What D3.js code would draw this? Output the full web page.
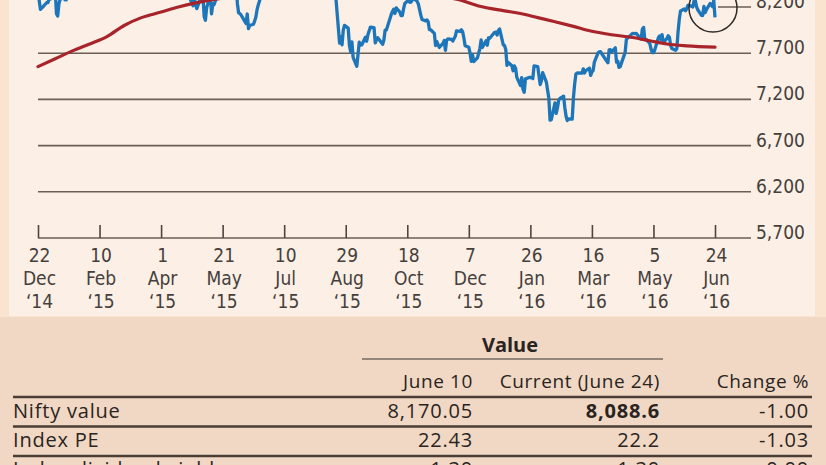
<!DOCTYPE html>
<html>
<head>
<meta charset="utf-8">
<script src="https://cdn.jsdelivr.net/npm/d3@7"></script>
<style>
  body { margin: 0; background: #fae4cf; }
  svg { display: block; }
</style>
</head>
<body>
<script>
// Nifty daily close, Dec 2014 - Jun 2016
var niftyDates = [
  "2014-12-22","2014-12-23","2014-12-24","2014-12-26","2014-12-29","2014-12-30","2014-12-31",
  "2015-01-01","2015-01-02","2015-01-05","2015-01-06","2015-01-07","2015-01-08","2015-01-09","2015-01-12","2015-01-13","2015-01-14","2015-01-15","2015-01-16","2015-01-19","2015-01-20","2015-01-21","2015-01-22","2015-01-23","2015-01-27","2015-01-28","2015-01-29","2015-01-30",
  "2015-02-02","2015-02-03","2015-02-04","2015-02-05","2015-02-06","2015-02-09","2015-02-10","2015-02-11","2015-02-12","2015-02-13","2015-02-16","2015-02-18","2015-02-19","2015-02-20","2015-02-23","2015-02-24","2015-02-25","2015-02-26","2015-02-27","2015-02-28",
  "2015-03-02","2015-03-03","2015-03-04","2015-03-05","2015-03-09","2015-03-10","2015-03-11","2015-03-12","2015-03-13","2015-03-16","2015-03-17","2015-03-18","2015-03-19","2015-03-20","2015-03-23","2015-03-24","2015-03-25","2015-03-26","2015-03-27","2015-03-30","2015-03-31",
  "2015-04-01","2015-04-06","2015-04-07","2015-04-08","2015-04-09","2015-04-10","2015-04-13","2015-04-15","2015-04-16","2015-04-17","2015-04-20","2015-04-21","2015-04-22","2015-04-23","2015-04-24","2015-04-27","2015-04-28","2015-04-29","2015-04-30",
  "2015-05-04","2015-05-05","2015-05-06","2015-05-07","2015-05-08","2015-05-11","2015-05-12","2015-05-13","2015-05-14","2015-05-15","2015-05-18","2015-05-19","2015-05-20","2015-05-21","2015-05-22","2015-05-25","2015-05-26","2015-05-27","2015-05-28","2015-05-29",
  "2015-06-01","2015-06-02","2015-06-03","2015-06-04","2015-06-05","2015-06-08","2015-06-09","2015-06-10","2015-06-11","2015-06-12","2015-06-15","2015-06-16","2015-06-17","2015-06-18","2015-06-19","2015-06-22","2015-06-23","2015-06-24","2015-06-25","2015-06-26","2015-06-29","2015-06-30",
  "2015-07-01","2015-07-02","2015-07-03","2015-07-06","2015-07-07","2015-07-08","2015-07-09","2015-07-10","2015-07-13","2015-07-14","2015-07-15","2015-07-16","2015-07-17","2015-07-20","2015-07-21","2015-07-22","2015-07-23","2015-07-24","2015-07-27","2015-07-28","2015-07-29","2015-07-30","2015-07-31",
  "2015-08-03","2015-08-04","2015-08-05","2015-08-06","2015-08-07","2015-08-10","2015-08-11","2015-08-12","2015-08-13","2015-08-14","2015-08-17","2015-08-18","2015-08-19","2015-08-20","2015-08-21","2015-08-24","2015-08-25","2015-08-26","2015-08-27","2015-08-28","2015-08-31",
  "2015-09-01","2015-09-02","2015-09-03","2015-09-04","2015-09-07","2015-09-08","2015-09-09","2015-09-10","2015-09-11","2015-09-14","2015-09-15","2015-09-16","2015-09-18","2015-09-21","2015-09-22","2015-09-23","2015-09-24","2015-09-28","2015-09-29","2015-09-30",
  "2015-10-01","2015-10-05","2015-10-06","2015-10-07","2015-10-08","2015-10-09","2015-10-12","2015-10-13","2015-10-14","2015-10-15","2015-10-16","2015-10-19","2015-10-20","2015-10-21","2015-10-23","2015-10-26","2015-10-27","2015-10-28","2015-10-29","2015-10-30",
  "2015-11-02","2015-11-03","2015-11-04","2015-11-05","2015-11-06","2015-11-09","2015-11-10","2015-11-11","2015-11-13","2015-11-16","2015-11-17","2015-11-18","2015-11-19","2015-11-20","2015-11-23","2015-11-24","2015-11-26","2015-11-27","2015-11-30",
  "2015-12-01","2015-12-02","2015-12-03","2015-12-04","2015-12-07","2015-12-08","2015-12-09","2015-12-10","2015-12-11","2015-12-14","2015-12-15","2015-12-16","2015-12-17","2015-12-18","2015-12-21","2015-12-22","2015-12-23","2015-12-24","2015-12-28","2015-12-29","2015-12-30","2015-12-31",
  "2016-01-01","2016-01-04","2016-01-05","2016-01-06","2016-01-07","2016-01-08","2016-01-11","2016-01-12","2016-01-13","2016-01-14","2016-01-15","2016-01-18","2016-01-19","2016-01-20","2016-01-21","2016-01-22","2016-01-25","2016-01-27","2016-01-28","2016-01-29",
  "2016-02-01","2016-02-02","2016-02-03","2016-02-04","2016-02-05","2016-02-08","2016-02-09","2016-02-10","2016-02-11","2016-02-12","2016-02-15","2016-02-16","2016-02-17","2016-02-18","2016-02-19","2016-02-22","2016-02-23","2016-02-24","2016-02-25","2016-02-26","2016-02-29",
  "2016-03-01","2016-03-02","2016-03-03","2016-03-04","2016-03-08","2016-03-09","2016-03-10","2016-03-11","2016-03-14","2016-03-15","2016-03-16","2016-03-17","2016-03-18","2016-03-21","2016-03-22","2016-03-23","2016-03-28","2016-03-29","2016-03-30","2016-03-31",
  "2016-04-01","2016-04-04","2016-04-05","2016-04-06","2016-04-07","2016-04-08","2016-04-11","2016-04-12","2016-04-13","2016-04-18","2016-04-20","2016-04-21","2016-04-22","2016-04-25","2016-04-26","2016-04-27","2016-04-28","2016-04-29",
  "2016-05-02","2016-05-03","2016-05-04","2016-05-05","2016-05-06","2016-05-09","2016-05-10","2016-05-11","2016-05-12","2016-05-13","2016-05-16","2016-05-17","2016-05-18","2016-05-19","2016-05-20","2016-05-23","2016-05-24","2016-05-25","2016-05-26","2016-05-27","2016-05-30","2016-05-31",
  "2016-06-01","2016-06-02","2016-06-03","2016-06-06","2016-06-07","2016-06-08","2016-06-09","2016-06-10","2016-06-13","2016-06-14","2016-06-15","2016-06-16","2016-06-17","2016-06-20","2016-06-21","2016-06-22","2016-06-23","2016-06-24"
];
var niftyClose = [
  8325,8268,8174,8201,8246,8248,8283,
  8285,8395,8378,8127,8102,8235,8285,8299,8277,8277,8494,8514,8550,8696,8730,8761,8836,8911,8914,8952,8809,
  8797,8756,8723,8711,8661,8526,8565,8627,8711,8805,8809,8869,8895,8834,8754,8762,8767,8683,8844,8901,
  8956,8996,8923,8937,8756,8712,8699,8776,8647,8633,8723,8685,8634,8571,8550,8542,8530,8342,8341,8492,8491,
  8586,8660,8660,8714,8779,8780,8834,8750,8706,8606,8448,8377,8429,8398,8305,8213,8285,8239,8182,
  8331,8324,8097,8057,8191,8325,8126,8235,8224,8262,8373,8365,8423,8421,8458,8370,8339,8334,8319,8434,
  8433,8236,8135,8130,8114,8044,8022,8124,7965,8000,8013,8047,8092,8174,8224,8353,8381,8360,8398,8381,8318,8368,
  8445,8444,8485,8523,8510,8363,8329,8361,8459,8454,8523,8609,8609,8603,8529,8589,8589,8521,8361,8337,8375,8421,8532,
  8543,8516,8567,8588,8564,8525,8462,8349,8355,8518,8477,8495,8519,8372,8300,7809,7880,7791,7949,8001,7971,
  7785,7717,7823,7655,7558,7688,7819,7788,7789,7872,7829,7899,7981,7977,7812,7846,7868,7796,7843,7949,
  7951,8119,8152,8177,8130,8190,8144,8107,8108,8180,8238,8275,8251,8252,8295,8261,8233,8171,8111,8065,
  8050,8060,8040,7955,7954,7915,7783,7825,7762,7806,7837,7731,7842,7856,7849,7831,7883,7942,7935,
  7954,7931,7864,7781,7765,7701,7612,7683,7610,7650,7700,7750,7844,7762,7835,7786,7866,7861,7926,7928,7896,7946,
  7963,7791,7784,7741,7569,7601,7564,7510,7562,7537,7438,7351,7436,7310,7277,7422,7437,7437,7425,7563,
  7556,7455,7361,7405,7489,7387,7298,7216,6976,6981,7163,7048,7108,7192,7211,7235,7110,7018,6971,6988,6987,
  7222,7368,7475,7486,7485,7531,7486,7510,7538,7460,7498,7512,7604,7704,7714,7716,7615,7597,7735,7738,
  7713,7758,7603,7614,7546,7555,7671,7708,7850,7914,7912,7915,7899,7855,7962,7979,7847,7850,
  7806,7747,7707,7706,7733,7867,7887,7849,7900,7815,7860,7890,7870,7783,7750,7731,7749,7934,8069,8157,8178,8160,
  8179,8218,8220,8201,8266,8273,8203,8170,8110,8108,8206,8140,8170,8238,8219,8204,8270,8089
];

// 200-day moving average
var maDates = [
  "2014-12-22","2015-01-05","2015-01-19","2015-02-02","2015-02-16","2015-03-02","2015-03-16",
  "2015-04-01","2015-04-15","2015-05-01","2015-05-15","2015-06-01","2015-07-01","2015-08-03",
  "2015-09-01","2015-10-01","2015-11-02","2015-11-30","2015-12-15","2016-01-04","2016-01-18",
  "2016-02-01","2016-02-15","2016-03-01","2016-03-15","2016-04-01","2016-04-18","2016-05-02",
  "2016-05-16","2016-06-01","2016-06-24"
];
var maValues = [
  7555,7640,7725,7800,7880,8000,8085,
  8145,8200,8250,8285,8315,8360,8420,
  8440,8400,8335,8275,8210,8160,8130,
  8085,8040,7990,7940,7900,7870,7835,
  7800,7780,7765
];

var yTicks = [5700, 6200, 6700, 7200, 7700, 8200];
var xTickDates = ["2014-12-22","2015-02-10","2015-04-01","2015-05-21","2015-07-10","2015-08-29",
  "2015-10-18","2015-12-07","2016-01-26","2016-03-16","2016-05-05","2016-06-24"];

var colHeads = ["June 10", "Current (June 24)", "Change %"];
var rowNames = ["Nifty value", "Index PE", "Index dividend yield"];
var june10 = ["8,170.05", "22.43", "1.30"];
var current = ["8,088.6", "22.2", "1.30"];
var change = ["-1.00", "-1.03", "0.00"];

var W = 826, H = 465;
var axisFont = "'DejaVu Sans Condensed', 'Liberation Sans Narrow', 'Roboto Condensed', sans-serif";
var tableFont = "'Open Sans', 'Noto Sans', sans-serif";

var svg = d3.select("body").append("svg")
  .attr("width", W)
  .attr("height", H);

// backgrounds
svg.append("rect").attr("x", 0).attr("y", 0).attr("width", W).attr("height", H).attr("fill", "#fae4cf");
svg.append("rect").attr("x", 9).attr("y", 0).attr("width", 806).attr("height", 316).attr("fill", "#fcefe5");
svg.append("rect").attr("x", 0).attr("y", 317).attr("width", W).attr("height", H - 317).attr("fill", "#f0d8c4");

var parse = d3.timeParse("%Y-%m-%d");
var x = d3.scaleTime()
  .domain([parse("2014-12-22"), parse("2016-06-24")])
  .range([38, 715]);
var y = d3.scaleLinear()
  .domain([5700, 8200])
  .range([238, 7]);

// gridlines
svg.selectAll("line.grid").data(yTicks).enter().append("line")
  .attr("class", "grid")
  .attr("x1", function(d) { return d === 8200 ? 718 : 38; })
  .attr("x2", 751)
  .attr("y1", function(d) { return y(d); })
  .attr("y2", function(d) { return y(d); })
  .attr("stroke", "#6a5e55")
  .attr("stroke-width", 1.6);

svg.selectAll("text.ylab").data(yTicks).enter().append("text")
  .attr("class", "ylab")
  .attr("x", 756)
  .attr("y", function(d) { return y(d) + 1; })
  .attr("font-family", axisFont)
  .attr("font-size", 19)
  .attr("fill", "#45403c")
  .text(function(d) { return d3.format(",")(d); });

// x axis ticks
var xAxis = d3.axisBottom(x)
  .tickValues(xTickDates.map(parse))
  .tickSize(-13)
  .tickFormat("");

var gx = svg.append("g")
  .attr("transform", "translate(0," + y(5700) + ")")
  .call(xAxis);
gx.select(".domain").remove();
gx.selectAll(".tick line").attr("stroke", "#4e4540").attr("stroke-width", 1.6);

var fDay = d3.timeFormat("%-d"), fMon = d3.timeFormat("%b"), fYr = d3.timeFormat("%y");
var lab = gx.selectAll(".tick").append("text")
  .attr("font-family", axisFont)
  .attr("font-size", 19)
  .attr("fill", "#45403c")
  .attr("text-anchor", "middle");
lab.append("tspan").attr("x", 1).attr("y", 24).text(function(d) { return fDay(d); });
lab.append("tspan").attr("x", 1).attr("y", 47).text(function(d) { return fMon(d); });
lab.append("tspan").attr("x", 1).attr("y", 70).text(function(d) { return "\u2018" + fYr(d); });

// lines
var nifty = niftyDates.map(function(d, i) { return { date: parse(d), v: niftyClose[i] }; });
var ma = maDates.map(function(d, i) { return { date: parse(d), v: maValues[i] }; });

var line = d3.line()
  .x(function(d) { return x(d.date); })
  .y(function(d) { return y(d.v); });

svg.append("path").datum(nifty)
  .attr("d", line)
  .attr("fill", "none")
  .attr("stroke", "#1d76b9")
  .attr("stroke-width", 3.3)
  .attr("stroke-linejoin", "round");

svg.append("path").datum(ma)
  .attr("d", line.curve(d3.curveMonotoneX))
  .attr("fill", "none")
  .attr("stroke", "#a8242b")
  .attr("stroke-width", 3.2)
  .attr("stroke-linecap", "round");

// circle on the latest value
svg.append("circle")
  .attr("cx", x(parse("2016-06-24")) - 2)
  .attr("cy", y(8200) + 1)
  .attr("r", 24)
  .attr("fill", "none")
  .attr("stroke", "#2f2a28")
  .attr("stroke-width", 1.5);

// table
var colRight = [473, 660, 809];
var rowY = [418, 447, 476];
var lineY = [397, 426.5, 456];

svg.append("text")
  .attr("x", 510).attr("y", 352)
  .attr("text-anchor", "middle")
  .attr("font-family", tableFont)
  .attr("font-size", 20)
  .attr("font-weight", "bold")
  .attr("fill", "#2a2421")
  .text("Value");

svg.append("line")
  .attr("x1", 362).attr("x2", 663)
  .attr("y1", 359).attr("y2", 359)
  .attr("stroke", "#3a302a")
  .attr("stroke-width", 1.2);

svg.selectAll("text.head").data(colHeads).enter().append("text")
  .attr("class", "head")
  .attr("x", function(d, i) { return colRight[i]; })
  .attr("y", 388)
  .attr("text-anchor", "end")
  .attr("font-family", tableFont)
  .attr("font-size", 19)
  .attr("letter-spacing", 0.6)
  .attr("fill", "#2a2421")
  .text(function(d) { return d; });

svg.selectAll("line.rule").data(lineY).enter().append("line")
  .attr("class", "rule")
  .attr("x1", 13).attr("x2", 812)
  .attr("y1", function(d) { return d; })
  .attr("y2", function(d) { return d; })
  .attr("stroke", "#4b3d34")
  .attr("stroke-width", 2.4);

var rows = svg.selectAll("g.row").data(rowNames).enter().append("g")
  .attr("class", "row")
  .attr("font-family", tableFont)
  .attr("font-size", 20)
  .attr("letter-spacing", 0.8)
  .attr("fill", "#2a2421");

rows.append("text")
  .attr("x", 13)
  .attr("y", function(d, i) { return rowY[i]; })
  .text(function(d) { return d; });

rows.append("text")
  .attr("x", colRight[0])
  .attr("y", function(d, i) { return rowY[i]; })
  .attr("text-anchor", "end")
  .text(function(d, i) { return june10[i]; });

rows.append("text")
  .attr("x", colRight[1])
  .attr("y", function(d, i) { return rowY[i]; })
  .attr("text-anchor", "end")
  .attr("font-weight", function(d, i) { return i === 0 ? "bold" : "normal"; })
  .text(function(d, i) { return current[i]; });

rows.append("text")
  .attr("x", colRight[2])
  .attr("y", function(d, i) { return rowY[i]; })
  .attr("text-anchor", "end")
  .text(function(d, i) { return change[i]; });
</script>
</body>
</html>
